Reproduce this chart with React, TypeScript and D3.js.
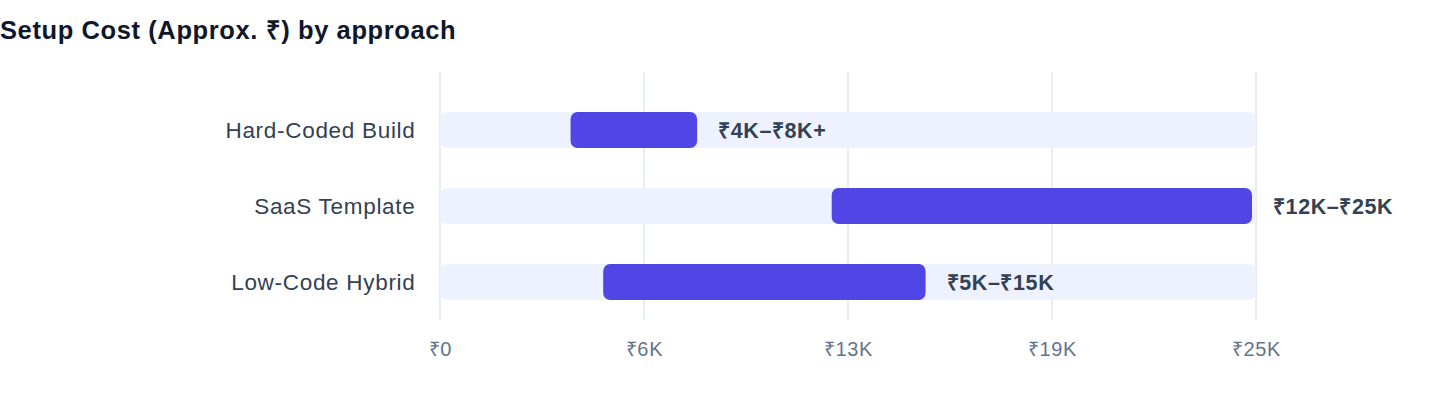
import { useRef, useEffect } from 'react'
import * as d3 from 'd3'

const categories = ['Hard-Coded Build', 'SaaS Template', 'Low-Code Hybrid']
const costFrom = [4000, 12000, 5000]
const costTo = [8000, 25000, 15000]
const rangeLabels = ['₹4K–₹8K+', '₹12K–₹25K', '₹5K–₹15K']
const tickValues = [0, 6250, 12500, 18750, 25000]
const tickLabels = ['₹0', '₹6K', '₹13K', '₹19K', '₹25K']

const FONT = '"Liberation Sans", Arial, Helvetica, sans-serif'

export default function App() {
  const svgRef = useRef<SVGSVGElement>(null)

  useEffect(() => {
    if (!svgRef.current) return
    const svg = d3.select(svgRef.current)
    svg.selectAll('*').remove()

    const x = d3.scaleLinear().domain([0, 25000]).range([440, 1256])
    const y = d3.scaleBand<string>().domain(categories).range([92, 320])
    const barH = 36

    // Title
    svg
      .append('text')
      .attr('x', 0)
      .attr('y', 39)
      .attr('font-family', FONT)
      .attr('font-size', 25.5)
      .attr('font-weight', 700)
      .attr('letter-spacing', 0.6)
      .attr('fill', '#0f172a')
      .text('Setup Cost (Approx. ₹) by approach')

    // Grid lines
    svg
      .append('g')
      .selectAll('line')
      .data(tickValues)
      .join('line')
      .attr('x1', (d) => x(d))
      .attr('x2', (d) => x(d))
      .attr('y1', 72)
      .attr('y2', 320)
      .attr('stroke', '#e2e8f0')
      .attr('stroke-width', 1.5)

    // Tick labels
    svg
      .append('g')
      .selectAll('text')
      .data(tickValues)
      .join('text')
      .attr('x', (d) => x(d) + 0.4)
      .attr('y', 356)
      .attr('text-anchor', 'middle')
      .attr('font-family', FONT)
      .attr('font-size', 20)
      .attr('letter-spacing', 0.7)
      .attr('fill', '#64748b')
      .text((_, i) => tickLabels[i])

    const rows = svg
      .append('g')
      .selectAll('g')
      .data(categories)
      .join('g')
      .attr('transform', (d) => `translate(0,${(y(d) ?? 0) + y.bandwidth() / 2})`)

    // Background track
    rows
      .append('rect')
      .attr('x', x(0))
      .attr('y', -barH / 2)
      .attr('width', x(25000) - x(0))
      .attr('height', barH)
      .attr('rx', 7)
      .attr('fill', '#eef2ff')

    // Range bar
    rows
      .append('rect')
      .attr('x', (_, i) => x(costFrom[i]))
      .attr('y', -barH / 2)
      .attr('width', (_, i) => x(costTo[i]) - x(costFrom[i]) - 4)
      .attr('height', barH)
      .attr('rx', 7)
      .attr('fill', '#4f46e5')

    // Category labels
    rows
      .append('text')
      .attr('x', 415.5)
      .attr('y', 0)
      .attr('dy', '0.36em')
      .attr('text-anchor', 'end')
      .attr('font-family', FONT)
      .attr('font-size', 22.5)
      .attr('letter-spacing', 0.7)
      .attr('fill', '#334155')
      .text((d) => d)

    // Value labels
    rows
      .append('text')
      .attr('x', (_, i) => x(costTo[i]) - 4 + 21)
      .attr('y', 0)
      .attr('dy', '0.36em')
      .attr('font-family', FONT)
      .attr('font-size', 21.5)
      .attr('font-weight', 700)
      .attr('letter-spacing', 0.6)
      .attr('fill', '#334155')
      .text((_, i) => rangeLabels[i])
  }, [])

  return (
    <svg
      ref={svgRef}
      width={1440}
      height={408}
      style={{ position: 'absolute', left: 0, top: 0, background: '#fff' }}
    />
  )
}
